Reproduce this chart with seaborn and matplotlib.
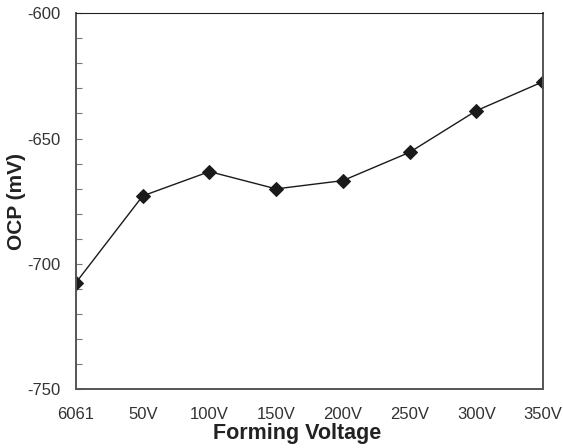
import matplotlib
matplotlib.use("Agg")
import matplotlib.pyplot as plt
from matplotlib.ticker import MultipleLocator
import seaborn as sns
import pandas as pd

categories = ["6061", "50V", "100V", "150V", "200V", "250V", "300V", "350V"]
ocp_mv = [-707.5, -672.9, -663.2, -670.1, -666.8, -655.5, -638.9, -627.3]

sns.set_style("white")
plt.rcParams["font.family"] = ["Liberation Sans", "DejaVu Sans"]
plt.rcParams["axes.unicode_minus"] = False

df = pd.DataFrame({"pos": range(len(categories)), "ocp": ocp_mv})

fig = plt.figure(figsize=(5.63, 4.48), dpi=100)
ax = fig.add_axes([0.135, 0.1317, 0.8295, 0.8386])

sns.lineplot(data=df, x="pos", y="ocp", ax=ax, color="#1a1a1a", linewidth=1.0,
             marker="D", markersize=7.5, markeredgecolor="#1a1a1a",
             markerfacecolor="#1a1a1a")

ax.set_xlim(0, len(categories) - 1)
ax.set_ylim(-750, -600)
ax.set_xticks(range(len(categories)))
ax.set_xticklabels(categories)
ax.yaxis.set_major_locator(MultipleLocator(50))
ax.yaxis.set_minor_locator(MultipleLocator(10))

for side in ["left", "bottom", "right", "top"]:
    ax.spines[side].set_color("#555555")
    ax.spines[side].set_linewidth(1.4)
ax.spines["top"].set_linewidth(0.8)
ax.spines["top"].set_color("#222222")

ax.tick_params(axis="x", which="major", direction="in", length=4, width=0.8,
               color="#777777", labelsize=12, labelcolor="#333333", pad=13)
ax.tick_params(axis="y", which="both", direction="in", left=True, length=4,
               width=0.8, color="#777777")
ax.tick_params(axis="y", which="major", labelsize=12, labelcolor="#333333",
               pad=11)

ax.set_xlabel("Forming Voltage", fontsize=15.5, fontweight="bold", labelpad=1,
              color="#222222")
ax.xaxis.label.set_x(0.473)
ax.set_ylabel("OCP (mV)", fontsize=15, fontweight="bold", labelpad=1,
              color="#222222")

fig.savefig("out.png", dpi=100)
